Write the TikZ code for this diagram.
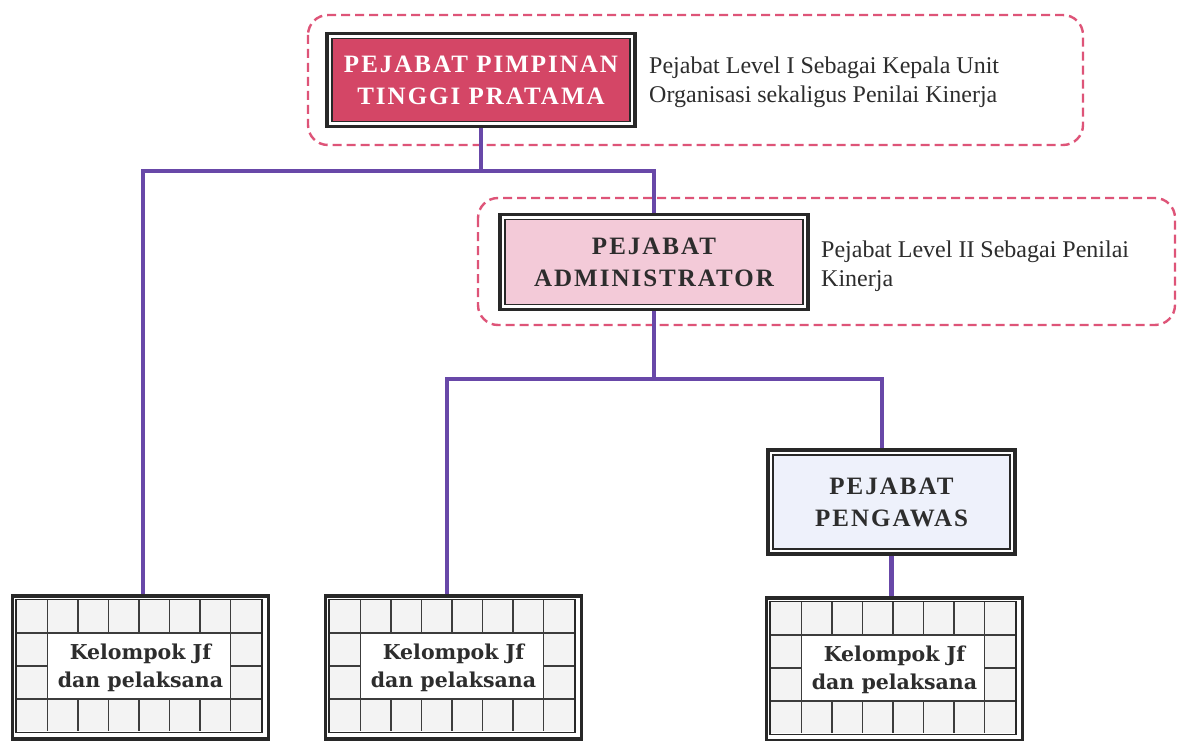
\documentclass[tikz,border=0pt]{standalone}
\usepackage{fontspec}
\setmainfont{Liberation Serif}
\newfontfamily\titlefont[LetterSpace=8]{Liberation Serif}
\newfontfamily\slabfont{DejaVu Serif}

\definecolor{connc}{RGB}{104,72,168}
\definecolor{zonec}{RGB}{222,84,120}
\definecolor{framec}{RGB}{40,40,40}
\definecolor{headc}{RGB}{212,70,102}
\definecolor{adminc}{RGB}{243,202,216}
\definecolor{superc}{RGB}{238,241,251}
\definecolor{cellc}{RGB}{243,243,243}
\definecolor{gridc}{RGB}{60,60,60}
\definecolor{inkc}{RGB}{45,45,45}

\tikzset{
  conn/.style={draw=connc, line width=4.5pt, line join=miter},
  zone/.style={draw=zonec, line width=2.4pt, dash pattern=on 9pt off 5pt, rounded corners=20pt},
  rank/.style={draw=framec, line width=3.2pt, fill=white, inner sep=0pt, align=center,
    font=\titlefont\bfseries\fontsize{25}{32}\selectfont,
    path picture={\draw[framec, line width=1.2pt, fill=#1]
      ([shift={(5pt,-5pt)}]path picture bounding box.north west) rectangle
      ([shift={(-5pt,5pt)}]path picture bounding box.south east);}},
  note/.style={anchor=west, inner sep=0pt, align=left, text=inkc,
    font=\fontsize{24}{29}\selectfont},
  kbox/.style={draw=framec, line width=3.2pt, fill=white, inner sep=0pt,
    minimum width=256pt, minimum height=143pt},
  ktext/.style={inner sep=0pt, align=center, text=inkc,
    font=\slabfont\bfseries\fontsize{20.5}{28}\selectfont},
  gridl/.style={draw=gridc, line width=1.8pt},
}

% cell grid inside a staff-group box (local units: pt, y downwards)
\newcommand\cellgrid[1]{%
  \begin{scope}[shift={(#1.north west)}]
    \fill[cellc] (6,6) rectangle (250,137);
    \fill[white] (36.5,38.75) rectangle (219.5,104.25);
    \foreach \i in {1,...,7}{
      \draw[gridl] (6+30.5*\i,6) -- (6+30.5*\i,38.75);
      \draw[gridl] (6+30.5*\i,104.25) -- (6+30.5*\i,137);
    }
    \draw[gridl] (36.5,38.75) -- (36.5,104.25);
    \draw[gridl] (219.5,38.75) -- (219.5,104.25);
    \draw[gridl] (6,38.75) -- (250,38.75);
    \draw[gridl] (6,104.25) -- (250,104.25);
    \draw[gridl] (6,71.5) -- (36.5,71.5);
    \draw[gridl] (219.5,71.5) -- (250,71.5);
    \draw[framec, line width=1.3pt] (5,5) rectangle (251,138);
  \end{scope}}

\begin{document}
\begin{tikzpicture}[x=1pt, y=-1pt]
  \useasboundingbox[fill=white] (0,0) rectangle (1178,741);

  % dashed groupings of the assessing officials
  \draw[zone] (308,15) rectangle (1083,145);
  \draw[zone] (478,198) rectangle (1175,325);

  % officials
  \node[rank=headc, text=white, minimum width=308pt, minimum height=93pt]
    (head) at (481,80) {PEJABAT PIMPINAN\\TINGGI PRATAMA};
  \node[rank=adminc, text=inkc, minimum width=308pt, minimum height=95pt]
    (admin) at (654,262) {PEJABAT\\ADMINISTRATOR};
  \node[rank=superc, text=inkc, minimum width=247pt, minimum height=104pt]
    (super) at (891.5,502) {PEJABAT\\PENGAWAS};

  \node[note] (headnote) at (649,82)
    {Pejabat Level I Sebagai Kepala Unit\\Organisasi sekaligus Penilai Kinerja};
  \node[note] (adminnote) at (821,266)
    {Pejabat Level II Sebagai Penilai\\Kinerja};

  % staff groups
  \node[kbox] (k1) at (140.5,667.5) {};
  \cellgrid{k1}
  \node[ktext] (k1t) at (k1) {Kelompok Jf\\dan pelaksana};
  \node[kbox] (k2) at (453.5,667.5) {};
  \cellgrid{k2}
  \node[ktext] (k2t) at (k2) {Kelompok Jf\\dan pelaksana};
  \node[kbox] (k3) at (894.5,669.5) {};
  \cellgrid{k3}
  \node[ktext] (k3t) at (k3) {Kelompok Jf\\dan pelaksana};

  % connectors
  \coordinate (busAL) at (143,171);
  \coordinate (busAR) at (654,171);
  \coordinate (busBL) at (447,379);
  \coordinate (busBR) at (882,379);
  \draw[conn] (head.south) -- (head.south |- busAL);
  \draw[conn] (k1.north -| busAL) -- (busAL) -- (busAR) -- (admin.north);
  \draw[conn] (admin.south) -- (admin.south |- busBL);
  \draw[conn] (k2.north -| busBL) -- (busBL) -- (busBR) -- (super.north -| busBR);
  \draw[conn] (super.south) -- (super.south |- k3.north);
\end{tikzpicture}
\end{document}
